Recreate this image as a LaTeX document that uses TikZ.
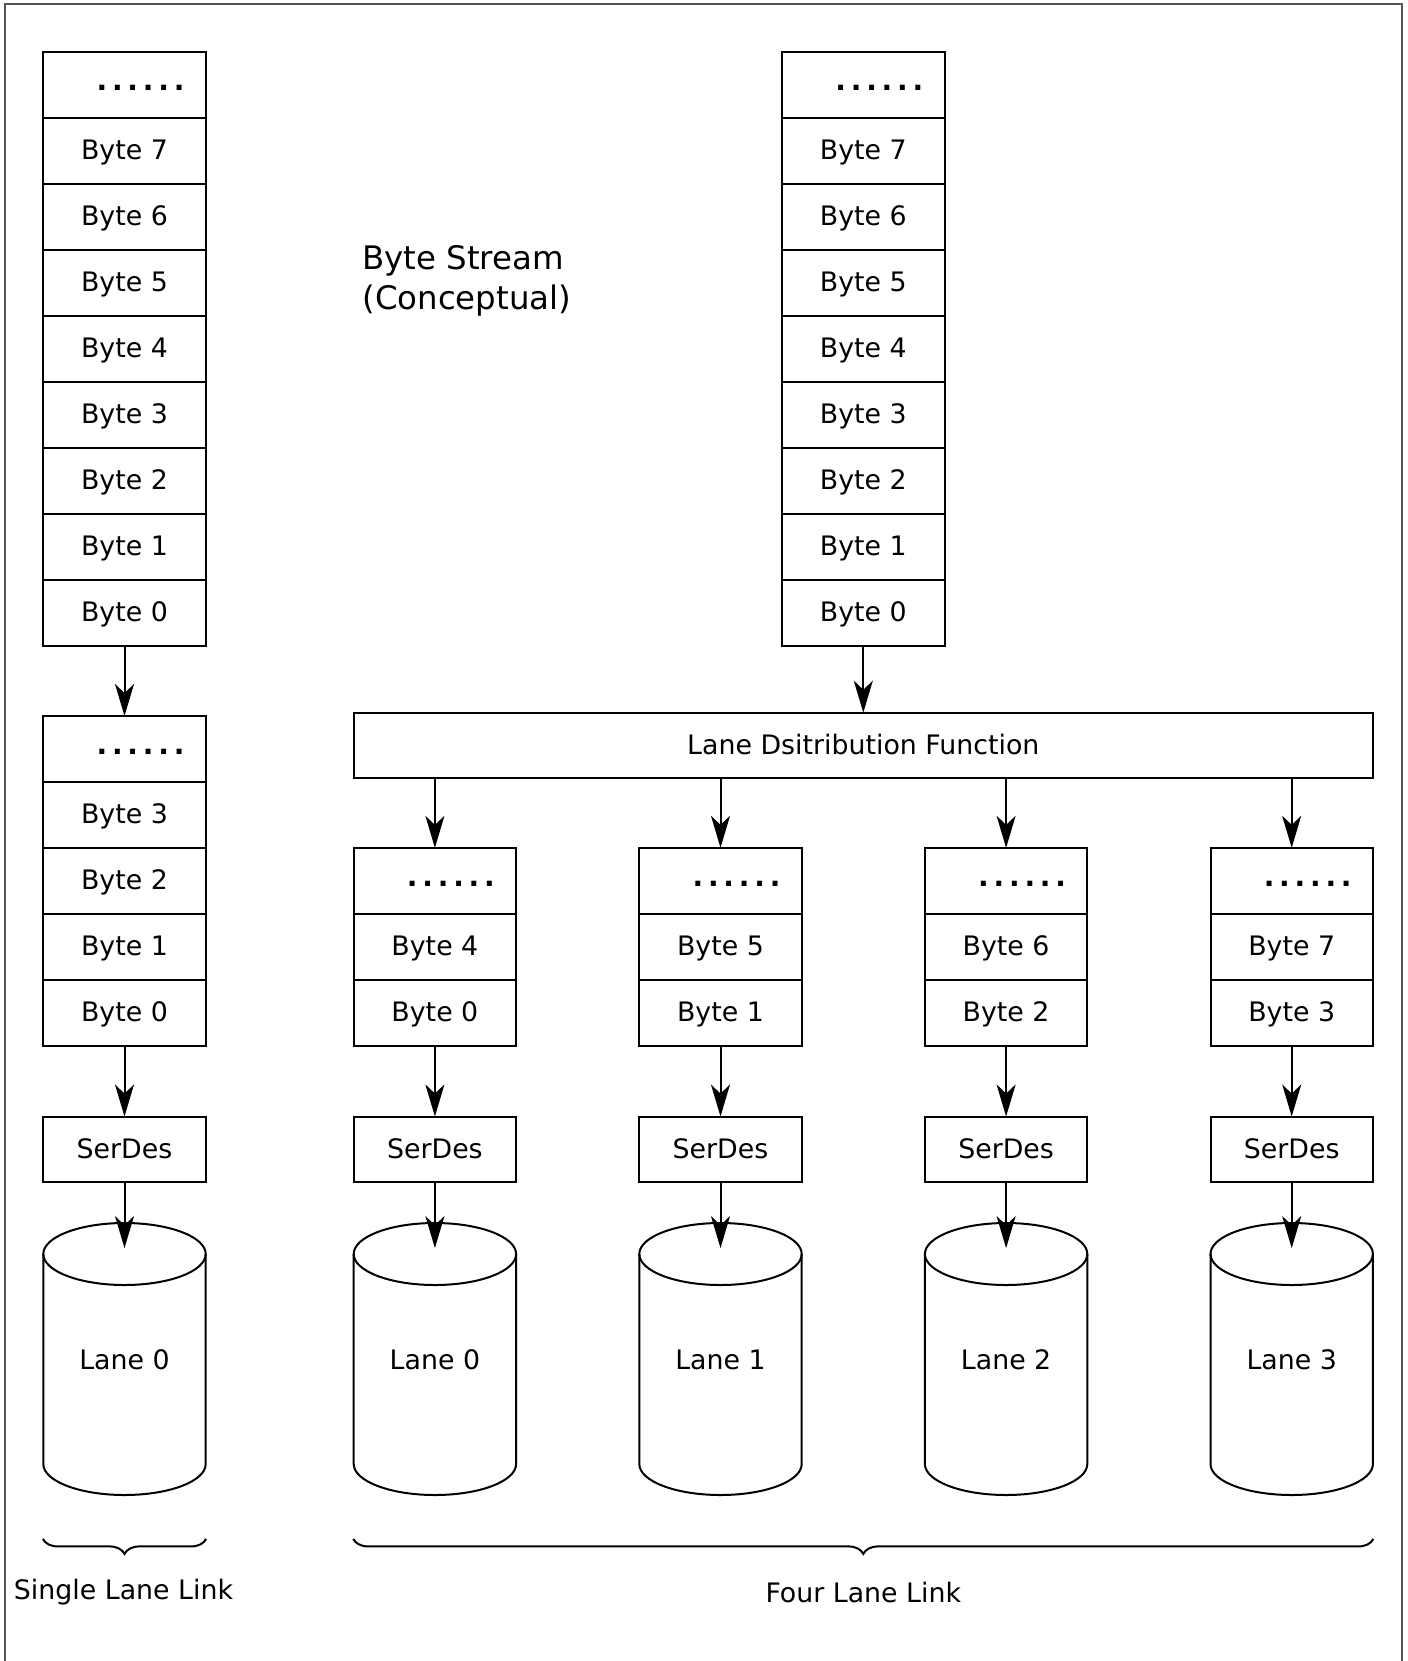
\documentclass[tikz,border=0pt]{standalone}
\usepackage{fontspec}
\setmainfont{DejaVu Sans}
\usetikzlibrary{arrows.meta,decorations.pathreplacing,calc}
\newcommand\sixdots{.\kern2.4pt.\kern2.4pt.\kern2.4pt.\kern2.4pt.\kern2.4pt.}
\begin{document}
\begin{tikzpicture}[x=0.5pt,y=-0.5pt,
  cell/.style={draw, line width=1pt, minimum width=81.2pt, minimum height=32.97pt, inner sep=0pt, outer sep=0pt, font=\fontsize{13.4}{16}\selectfont, text height=9.5pt, text depth=1pt},
  dotcell/.style={cell, font=\fontsize{14}{14}\selectfont\bfseries, text height=5.5pt, text depth=0pt},
  arr/.style={line width=1pt, -{Stealth[length=16pt,width=9.5pt,inset=4.5pt]}},
  cyl/.style={draw, line width=1pt},
  cyllbl/.style={font=\fontsize{13.4}{16}\selectfont, inner sep=0pt, minimum width=81.2pt, minimum height=136pt},
  lbl/.style={font=\fontsize{13.4}{16}\selectfont, inner sep=0pt},
  brc/.style={decorate, decoration={brace, mirror, amplitude=7.5pt}, line width=1pt},
  frame/.style={draw={rgb,255:red,85;green,85;blue,85}, line width=1pt}
]
\useasboundingbox (0,0) rectangle (1408,1661);
\draw[frame] (4.5,1661) -- (4.5,3.5) -- (1401.5,3.5) -- (1401.5,1661);

% byte streams
\foreach \sx/\sn in {124.5/L, 863.3/R}{
  \node[dotcell] (\sn0) at (\sx,85.27) {\hspace{16pt}\sixdots};
  \foreach \i in {1,...,8}{
    \pgfmathtruncatemacro\b{8-\i}
    \node[cell] (\sn\i) at (\sx,{85.27+65.93*\i}) {Byte \b};
  }
}

\node[font=\fontsize{16.2}{20}\selectfont, align=left, anchor=west, inner sep=0pt] (bs) at (362,280.5) {Byte Stream\\(Conceptual)};

% single lane
\node[dotcell] (M0) at (124.5,749.0) {\hspace{16pt}\sixdots};
\foreach \i in {1,...,4}{
  \pgfmathtruncatemacro\b{4-\i}
  \node[cell] (M\i) at (124.5,{749.0+65.93*\i}) {Byte \b};
}
\node[cell] (SL) at (124.5,1149.5) {SerDes};
\node[cyllbl] (CL) at (124.5,1359.5) {Lane 0};
\draw[cyl] (124.5-81.2,1254) -- (124.5-81.2,1464)
  arc[start angle=180, end angle=360, x radius=40.6pt, y radius=15.5pt]
  -- (124.5+81.2,1254)
  arc[start angle=0, end angle=180, x radius=40.6pt, y radius=15.5pt] -- cycle;
\draw[cyl] (124.5-81.2,1254) arc[start angle=180, end angle=360, x radius=40.6pt, y radius=15.5pt];

% distribution
\node[cell, minimum width=509.6pt, minimum height=32.8pt] (ldf) at (863.3,745.5) {Lane Dsitribution Function};

% four lanes
\foreach \j in {0,1,2,3}{
  \pgfmathsetmacro\lx{434.9+285.6*\j}
  \pgfmathtruncatemacro\hb{4+\j}
  \node[dotcell] (A\j0) at (\lx,880.8) {\hspace{16pt}\sixdots};
  \node[cell] (A\j1) at (\lx,946.8) {Byte \hb};
  \node[cell] (A\j2) at (\lx,1012.7) {Byte \j};
  \node[cell] (SA\j) at (\lx,1149.5) {SerDes};
  \node[cyllbl] (CA\j) at (\lx,1359.5) {Lane \j};
  \draw[cyl] (\lx-81.2,1254) -- (\lx-81.2,1464)
    arc[start angle=180, end angle=360, x radius=40.6pt, y radius=15.5pt]
    -- (\lx+81.2,1254)
    arc[start angle=0, end angle=180, x radius=40.6pt, y radius=15.5pt] -- cycle;
  \draw[cyl] (\lx-81.2,1254) arc[start angle=180, end angle=360, x radius=40.6pt, y radius=15.5pt];
  \draw[arr] (ldf.south -| A\j0.north) -- (A\j0.north);
  \draw[arr] (A\j2.south) -- (SA\j.north);
  \draw[arr] (SA\j.south) -- ($(CA\j.north)+(0,25)$);
}

% connectors
\draw[arr] (L8.south) -- (M0.north);
\draw[arr] (R8.south) -- (ldf.north);
\draw[arr] (M4.south) -- (SL.north);
\draw[arr] (SL.south) -- ($(CL.north)+(0,25)$);

% braces
\draw[brc] ($(CL.south west)+(0,43)$) -- ($(CL.south east)+(0,43)$);
\draw[brc] ($(CA0.south west)+(0,43)$) -- ($(CA3.south east)+(0,43)$);
\node[lbl, anchor=base] (sll) at (123.5,1599) {Single Lane Link};
\node[lbl, anchor=base] (fll) at (863.3,1602) {Four Lane Link};
\end{tikzpicture}
\end{document}
